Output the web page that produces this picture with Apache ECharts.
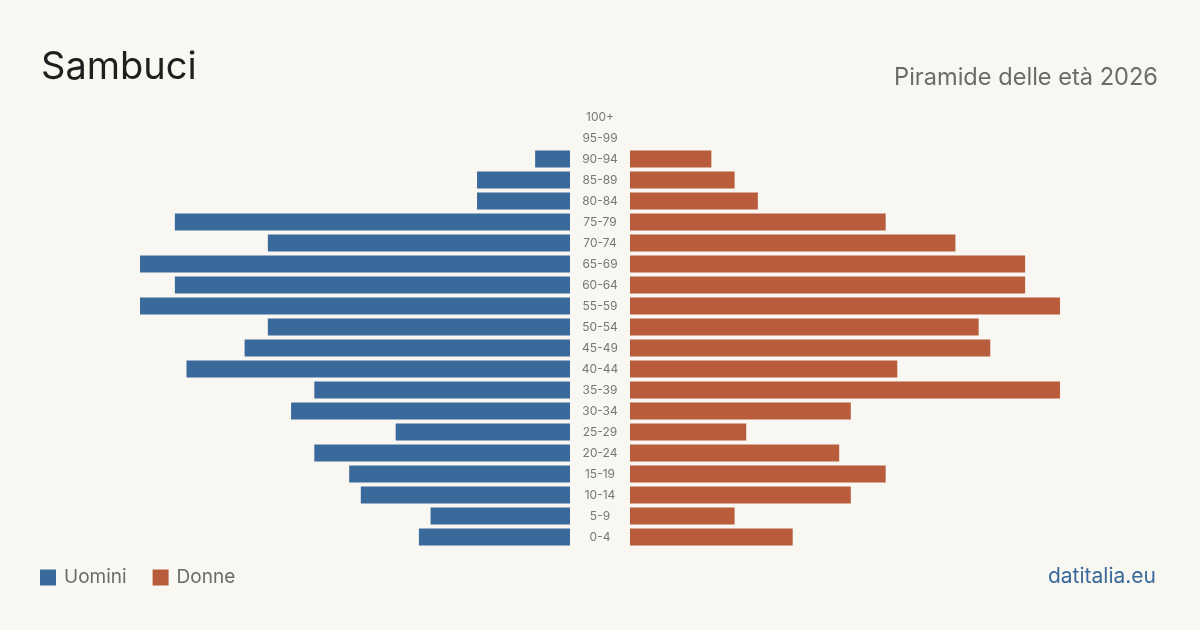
<!DOCTYPE html>
<html>
<head>
<meta charset="utf-8">
<style>
  html, body { margin: 0; padding: 0; background: #f9f7f2; }
  #chart { width: 1200px; height: 630px; }
</style>
<script src="https://cdn.jsdelivr.net/npm/echarts@6/dist/echarts.min.js"></script>
</head>
<body>
<div id="chart"></div>
<script>
// fasce d'età dal basso verso l'alto
const ageGroups = ['0-4', '5-9', '10-14', '15-19', '20-24', '25-29', '30-34', '35-39', '40-44', '45-49',
  '50-54', '55-59', '60-64', '65-69', '70-74', '75-79', '80-84', '85-89', '90-94', '95-99', '100+']
const uomini = [13, 12, 18, 19, 22, 15, 24, 22, 33, 28, 26, 37, 34, 37, 26, 34, 8, 8, 3, 0, 0]
const donne = [14, 9, 19, 22, 18, 10, 19, 37, 23, 31, 30, 37, 34, 34, 28, 22, 11, 9, 7, 0, 0]
const maxValue = 37

const BLUE = '#3a6a9b'
const ORANGE = '#b95c3c'
const font = 'Inter, "Noto Sans", sans-serif'

const chart = echarts.init(document.getElementById('chart'))

const option = {
  backgroundColor: '#f9f7f2',
  animation: false,
  textStyle: { fontFamily: font },
  title: [
    {
      text: 'Sambuci',
      left: 36,
      top: 44,
      textStyle: { fontSize: 38, fontWeight: 'normal', color: '#1f1f1f', fontFamily: font }
    },
    {
      text: 'Piramide delle età 2026',
      right: 37,
      top: 61,
      textStyle: { fontSize: 23.6, fontWeight: 'normal', color: '#6b6b6b', fontFamily: font }
    }
  ],
  legend: {
    left: 35,
    top: 563,
    icon: 'rect',
    itemWidth: 16,
    itemHeight: 16,
    itemGap: 26,
    data: ['Uomini', 'Donne'],
    textStyle: { fontSize: 19, color: '#6b6b6b', padding: [0, 0, 0, 3], fontFamily: font }
  },
  graphic: [{
    type: 'text',
    right: 44,
    top: 566,
    style: { text: 'datitalia.eu', fontSize: 21, fill: '#3a6a9b', fontFamily: font }
  }],
  grid: [
    { left: 140, right: 630, top: 106.5, height: 441 },
    { left: 630, right: 140, top: 106.5, height: 441 }
  ],
  xAxis: [
    { gridIndex: 0, type: 'value', inverse: true, min: 0, max: maxValue, show: false },
    { gridIndex: 1, type: 'value', min: 0, max: maxValue, show: false }
  ],
  yAxis: [
    {
      gridIndex: 0,
      type: 'category',
      data: ageGroups,
      position: 'right',
      axisLine: { show: false },
      axisTick: { show: false },
      axisLabel: { align: 'center', margin: 30, fontSize: 12, color: '#777', fontFamily: font }
    },
    {
      gridIndex: 1,
      type: 'category',
      data: ageGroups,
      axisLine: { show: false },
      axisTick: { show: false },
      axisLabel: { show: false }
    }
  ],
  series: [
    {
      name: 'Uomini',
      type: 'bar',
      xAxisIndex: 0,
      yAxisIndex: 0,
      data: uomini,
      barWidth: 17,
      itemStyle: { color: BLUE }
    },
    {
      name: 'Donne',
      type: 'bar',
      xAxisIndex: 1,
      yAxisIndex: 1,
      data: donne,
      barWidth: 17,
      itemStyle: { color: ORANGE }
    }
  ]
}

chart.setOption(option)
</script>
</body>
</html>
